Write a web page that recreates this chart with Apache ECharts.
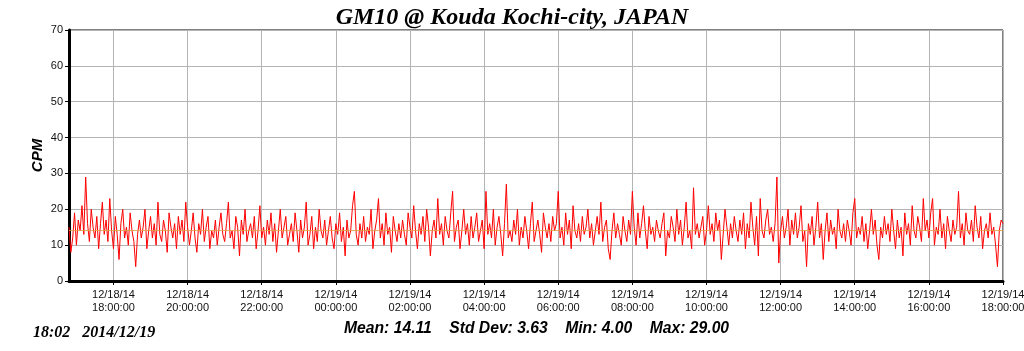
<!DOCTYPE html>
<html>
<head>
<meta charset="utf-8">
<script src="https://cdn.jsdelivr.net/npm/echarts@6/dist/echarts.min.js"></script>
<style>
  html, body { margin: 0; padding: 0; background: #fff; }
</style>
</head>
<body>
<!-- chart area, same size as the window -->
<div id="main" style="width: 1024px;height: 351px"></div>

<script type="text/javascript">
    // readings every 3 minutes, starting 12/18/14 16:48
    var startTime = new Date(2014, 11, 18, 16, 48).getTime();
    var endTime = new Date(2014, 11, 19, 18, 0).getTime();
    var stepMinutes = 3;

    var cpm = [
        15, 8, 12, 19, 10, 17, 14, 21, 13, 29, 16, 11, 20, 15, 12, 18, 9, 16, 22, 13,
        17, 11, 23, 14, 9, 18, 13, 6, 16, 20, 12, 15, 10, 19, 14, 11, 4, 13, 17, 12,
        15, 20, 9, 14, 18, 12, 16, 10, 22, 13, 11, 17, 14, 8, 19, 15, 12, 16, 9, 18,
        13, 17, 11, 22, 15, 10, 14, 19, 12, 8, 16, 13, 20, 11, 15, 18, 9, 14, 12, 17,
        10, 15, 19, 13, 11, 16, 22, 12, 14, 9, 18, 15, 7, 17, 13, 20, 11, 14, 16, 12,
        18, 9, 14, 21, 12, 15, 10, 17, 13, 19, 11, 16, 8, 14, 20, 12, 15, 18, 10, 13,
        16, 11, 19, 14, 8, 17, 12, 15, 22, 10, 13, 18, 9, 15, 11, 20, 14, 12, 17, 10,
        14, 18, 12, 9, 16, 13, 19, 11, 15, 7, 17, 12, 14, 21, 25, 13, 10, 16, 12, 18,
        11, 15, 13, 20, 9, 14, 17, 23, 12, 16, 10, 19, 13, 15, 8, 18, 14, 11, 16, 12,
        17, 13, 10, 19, 15, 12, 21, 14, 9, 16, 13, 18, 11, 20, 15, 7, 14, 17, 12, 23,
        13, 16, 10, 18, 14, 12, 19, 25, 11, 15, 17, 9, 14, 20, 13, 16, 10, 18, 12, 15,
        19, 11, 14, 17, 9, 25, 13, 16, 12, 20, 10, 15, 18, 13, 7, 16, 27, 12, 14, 11,
        17, 13, 20, 10, 15, 12, 18, 14, 9, 16, 22, 11, 14, 17, 13, 8, 19, 15, 12, 16,
        11, 18, 14, 16, 25, 12, 15, 10, 19, 13, 17, 9, 21, 14, 12, 16, 11, 18, 13, 15,
        20, 12, 16, 10, 14, 18, 13, 22, 11, 15, 17, 9, 6, 14, 19, 12, 16, 13, 10, 18,
        14, 11, 17, 13, 25, 15, 10, 19, 12, 16, 21, 14, 9, 18, 13, 15, 11, 17, 14, 12,
        16, 19, 7, 14, 12, 18, 15, 11, 20, 13, 17, 10, 15, 22, 12, 14, 9, 26, 13, 16,
        12, 15, 18, 10, 14, 21, 13, 16, 11, 19, 14, 17, 6, 13, 20, 15, 10, 16, 12, 18,
        14, 11, 17, 13, 19, 9, 16, 12, 22, 15, 10, 18, 7, 23, 14, 12, 17, 20, 13, 15,
        11, 16, 29, 5, 14, 18, 12, 15, 20, 10, 17, 13, 19, 12, 15, 21, 11, 14, 4, 16,
        13, 18, 10, 15, 22, 12, 16, 6, 14, 19, 11, 17, 13, 15, 9, 20, 14, 12, 16, 11,
        17, 14, 10, 19, 23, 12, 15, 13, 18, 11, 16, 9, 14, 20, 13, 17, 10, 6, 15, 12,
        18, 13, 16, 11, 20, 14, 9, 17, 12, 15, 7, 19, 13, 16, 10, 21, 14, 12, 18, 15,
        11, 23, 14, 17, 12, 19, 23, 10, 15, 13, 20, 12, 16, 9, 18, 14, 11, 17, 13, 15,
        25, 12, 16, 10, 19, 14, 13, 17, 11, 21, 15, 12, 18, 9, 14, 16, 12, 19, 13, 15,
        10, 4, 14, 17, 16
    ];

    var yTicks = [0, 10, 20, 30, 40, 50, 60, 70];
    var meanValue = 14.11;
    var statsText = 'Mean: 14.11    Std Dev: 3.63    Min: 4.00    Max: 29.00';
    var stampText = '18:02   2014/12/19';

    var seriesData = [];
    for (var i = 0; i < cpm.length; i++) {
        seriesData.push([startTime + i * stepMinutes * 60000, cpm[i]]);
    }

    function pad(n) { return n < 10 ? '0' + n : '' + n; }

    var myChart = echarts.init(document.getElementById('main'));

    var option = {
        animation: false,
        backgroundColor: '#ffffff',
        title: [{
            text: 'GM10 @ Kouda Kochi-city, JAPAN',
            left: 'center',
            top: 1,
            textStyle: {
                fontFamily: 'Liberation Serif',
                fontSize: 24,
                fontWeight: 'bold',
                fontStyle: 'italic',
                color: '#000'
            }
        }, {
            text: stampText,
            left: 28,
            top: 320,
            textStyle: {
                fontFamily: 'Liberation Serif',
                fontSize: 16,
                fontWeight: 'bold',
                fontStyle: 'italic',
                color: '#000'
            }
        }, {
            text: statsText,
            left: 339,
            top: 316,
            textStyle: {
                fontFamily: 'Liberation Sans',
                fontSize: 15.7,
                fontWeight: 'bold',
                fontStyle: 'italic',
                color: '#000'
            }
        }],
        grid: {
            left: 69,
            right: 21,
            top: 30,
            bottom: 70,
            outerBoundsMode: 'none',
            show: true,
            borderColor: '#000',
            borderWidth: 1
        },
        xAxis: {
            type: 'time',
            min: startTime,
            max: endTime,
            splitNumber: 10,
            axisLine: { lineStyle: { color: '#000', width: 3 } },
            axisTick: { show: true, length: 4, lineStyle: { color: '#000' } },
            axisLabel: {
                showMinLabel: false,
                hideOverlap: false,
                margin: 7,
                fontFamily: 'Liberation Sans',
                fontSize: 11,
                lineHeight: 13,
                color: '#111',
                formatter: function (v) {
                    var d = new Date(v);
                    return pad(d.getMonth() + 1) + '/' + pad(d.getDate()) + '/14\n' +
                        pad(d.getHours()) + ':' + pad(d.getMinutes()) + ':00';
                }
            },
            splitLine: { show: true, lineStyle: { color: '#b4b4b4', width: 1 } }
        },
        yAxis: {
            type: 'value',
            min: yTicks[0],
            max: yTicks[yTicks.length - 1],
            interval: 10,
            name: 'CPM',
            nameLocation: 'middle',
            nameGap: 24,
            nameMoveOverlap: false,
            nameRotate: 90,
            nameTextStyle: {
                fontFamily: 'Liberation Sans',
                fontSize: 15,
                fontWeight: 'bold',
                fontStyle: 'italic',
                color: '#000'
            },
            axisLine: { show: true, lineStyle: { color: '#000', width: 3 } },
            axisTick: { show: true, length: 4, lineStyle: { color: '#000' } },
            axisLabel: {
                margin: 6,
                fontFamily: 'Liberation Sans',
                fontSize: 11,
                color: '#111'
            },
            splitLine: { show: true, lineStyle: { color: '#b4b4b4', width: 1 } }
        },
        series: [{
            name: 'CPM',
            type: 'line',
            data: seriesData,
            showSymbol: false,
            symbol: 'none',
            lineStyle: { color: '#ff0000', width: 1 },
            markLine: {
                silent: true,
                symbol: 'none',
                label: { show: false },
                lineStyle: { color: '#e0a040', width: 1, type: 'solid', opacity: 0.8 },
                data: [{ yAxis: meanValue }]
            }
        }]
    };

    myChart.setOption(option);
</script>
</body>
</html>
